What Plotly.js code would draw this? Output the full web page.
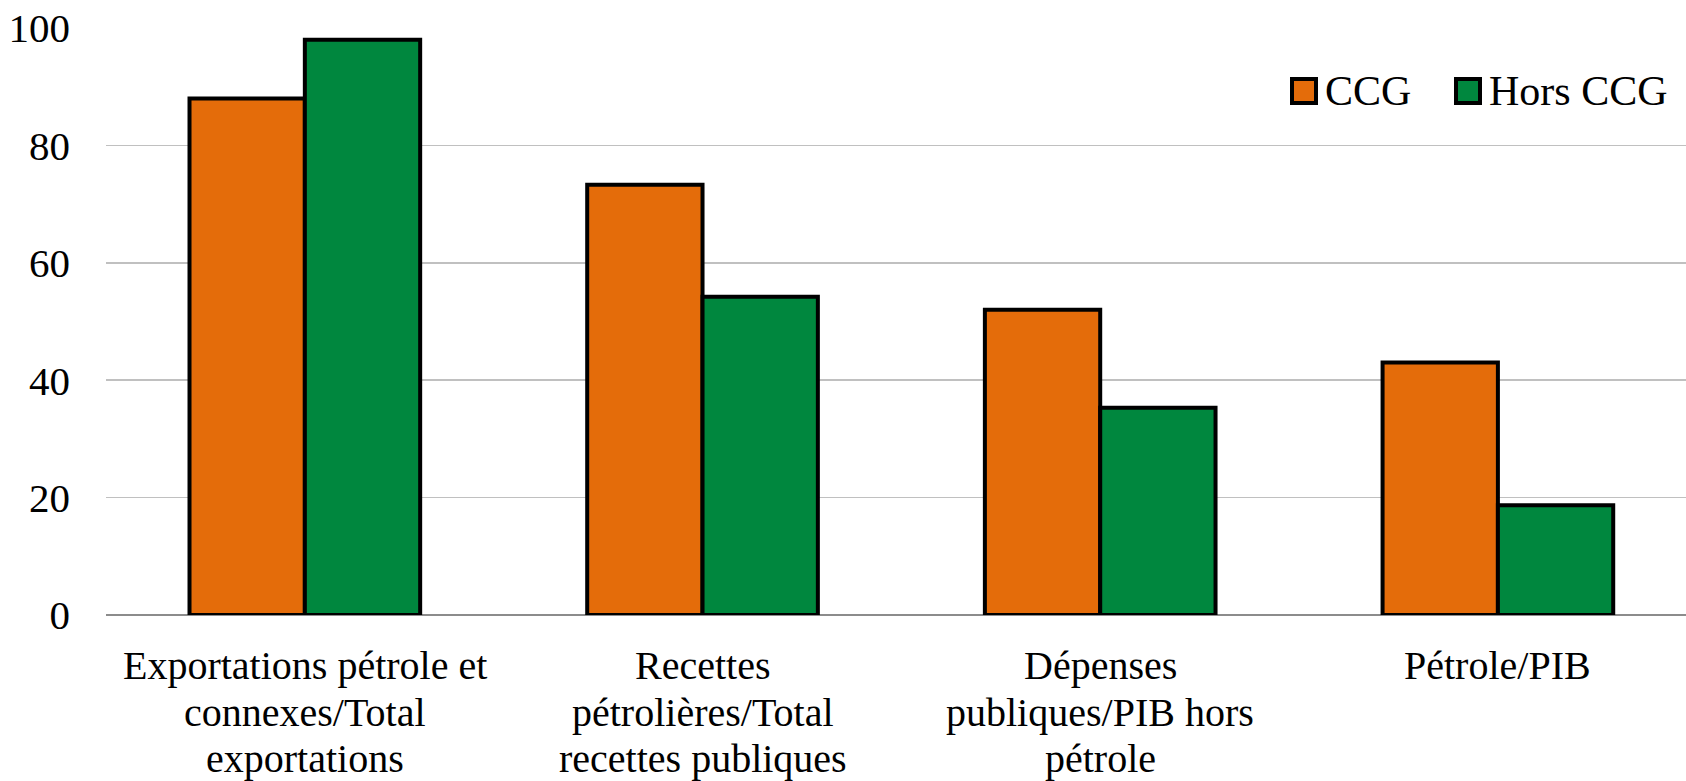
<!DOCTYPE html>
<html>
<head>
<meta charset="utf-8">
<script src="https://cdn.plot.ly/plotly-3.0.1.min.js"></script>
<style>html,body{margin:0;padding:0;background:#fff;}#chart{width:1686px;height:781px;}</style>
</head>
<body>
<div id="chart"></div>
<script>
const categories = [
  "Exportations pétrole et<br>connexes/Total<br>exportations",
  "Recettes<br>pétrolières/Total<br>recettes publiques",
  "Dépenses<br>publiques/PIB hors<br>pétrole",
  "Pétrole/PIB"
];
const seriesNames = ["CCG", "Hors CCG"];
const ccgValues = [88, 73.3, 52, 43];
const horsCcgValues = [98, 54.2, 35.3, 18.7];
const yTicks = [0, 20, 40, 60, 80, 100];
const colors = ["#E46C0A", "#00873E"];

const W = 1686, H = 781;
const mL = 106, mR = 0, mT = 28, mB = 166;
const pw = W - mL - mR, ph = H - mT - mB;
const px = x => (x - mL) / pw;
const py = y => (H - mB - y) / ph;
const FONT = "Liberation Serif, Times New Roman, serif";
const LABEL_SIZE = 40;

const idx = categories.map((c, i) => i);
const traces = [
  {type: "bar", x: idx, y: ccgValues, name: seriesNames[0],
   marker: {color: colors[0], line: {color: "#000", width: 4}}, showlegend: false},
  {type: "bar", x: idx, y: horsCcgValues, name: seriesNames[1],
   marker: {color: colors[1], line: {color: "#000", width: 4}}, showlegend: false}
];

function legendItem(x, label, color) {
  return {
    shape: {type: "rect", xref: "paper", yref: "paper",
      x0: px(x), x1: px(x + 24), y0: py(103), y1: py(79),
      fillcolor: color, line: {color: "#000", width: 4}},
    ann: {xref: "paper", yref: "paper", x: px(x + 31), y: py(91), xanchor: "left", yanchor: "middle",
      text: label, showarrow: false, font: {family: FONT, size: 42, color: "#000"}}
  };
}
const l1 = legendItem(1292, seriesNames[0], colors[0]);
const l2 = legendItem(1456, seriesNames[1], colors[1]);

// category labels, one annotation per text line (custom line spacing)
const labelAnns = [];
categories.forEach((c, i) => {
  c.split("<br>").forEach((line, k) => {
    labelAnns.push({xref: "x", yref: "paper", x: i, y: py(642 + k * 46.5),
      xanchor: "center", yanchor: "top", borderpad: 0, showarrow: false,
      text: line, font: {family: FONT, size: LABEL_SIZE, color: "#000"}});
  });
});

const layout = {
  width: W, height: H,
  margin: {l: mL, r: mR, t: mT, b: mB, pad: 0},
  paper_bgcolor: "#fff", plot_bgcolor: "#fff",
  barmode: "group", bargap: 0.42, bargroupgap: 0,
  font: {family: FONT, color: "#000"},
  xaxis: {
    range: [-0.5, 3.473], tickvals: idx, showticklabels: false,
    showgrid: false, showline: false, zeroline: false, ticks: "", fixedrange: true
  },
  yaxis: {
    range: [0, 100], tickvals: yTicks, ticktext: yTicks.map(String),
    showgrid: true, gridcolor: "#C0C0C0", gridwidth: 1.5,
    zeroline: true, zerolinecolor: "#8C8C8C", zerolinewidth: 2,
    showline: false, ticks: "", ticklabelstandoff: 35,
    tickfont: {family: FONT, size: 41, color: "#000"}, fixedrange: true
  },
  shapes: [l1.shape, l2.shape],
  annotations: [l1.ann, l2.ann].concat(labelAnns)
};

Plotly.newPlot("chart", traces, layout, {displayModeBar: false, staticPlot: true});
</script>
</body>
</html>
